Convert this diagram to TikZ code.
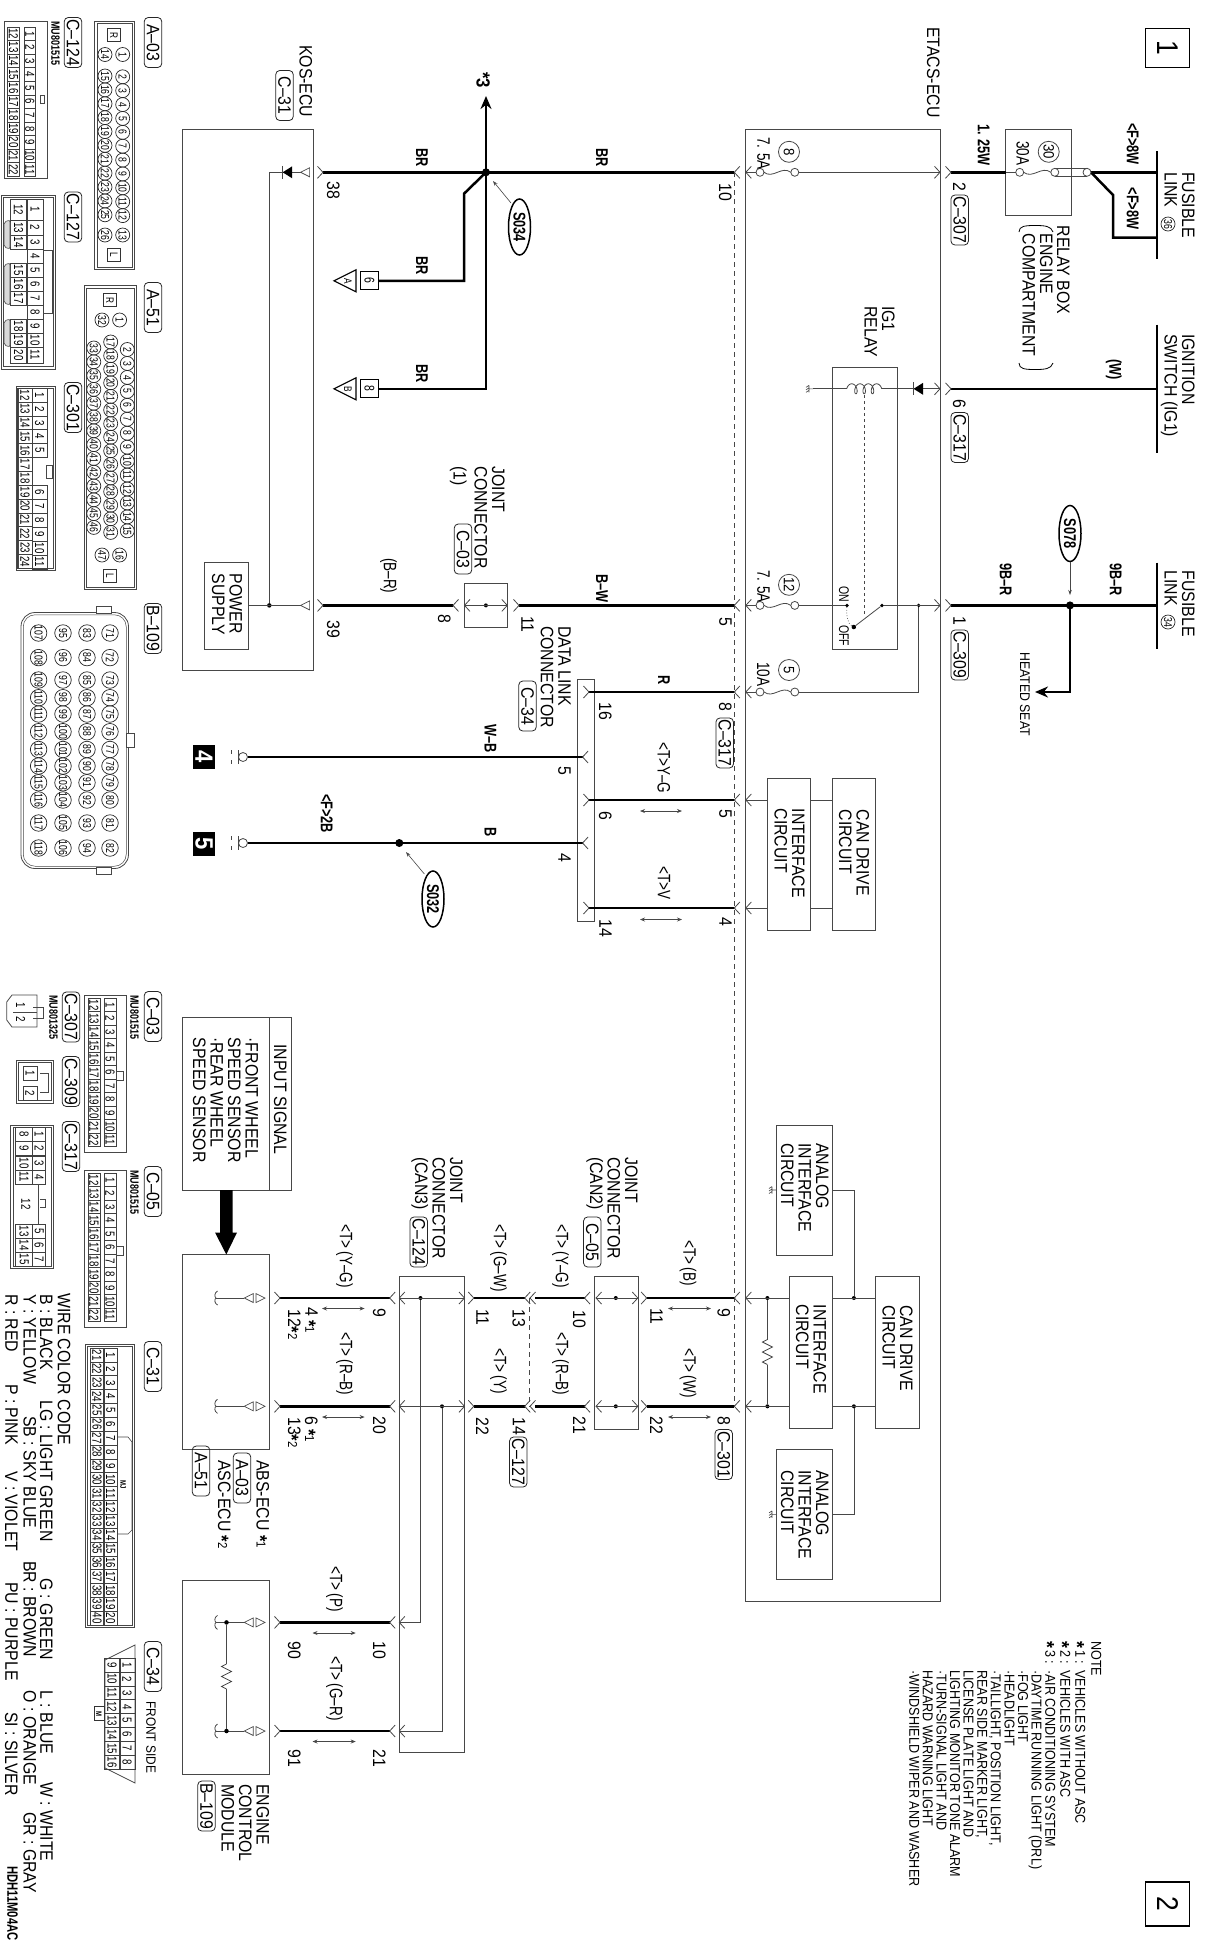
\documentclass[tikz,border=0pt]{standalone}
\usepackage{fontspec}
\setmainfont{Liberation Sans}[FakeStretch=.88]
\newfontfamily\narrowfont{Liberation Sans}[FakeStretch=.75]
\usetikzlibrary{arrows.meta,shapes.geometric}

\newcommand{\fsz}[1]{\fontsize{#1}{#1}\selectfont}
\newcommand{\astm}{\raisebox{-.3ex}{\bfseries\fsz{19}*}}
\newcommand{\astb}{\raisebox{-.35em}{\bfseries\fsz{20}*}}
\colorlet{ln}{black!72}

\tikzset{
  lbl/.style={rotate=-90,anchor=north west,inner sep=0pt,align=left,font=\fsz{18}},
  wlbl/.style={lbl,font=\narrowfont\bfseries\fsz{17}},
  tlbl/.style={lbl,font=\narrowfont\fsz{18}},
  notel/.style={lbl,font=\fsz{14.3}},
  pill/.style={draw=black!85,line width=.8pt,rotate=-90,rounded corners=4pt,inner sep=0pt,outer sep=0pt,
    minimum width=50pt,minimum height=17.5pt,font=\fsz{18}},
  box/.style={draw=ln,inner sep=0pt,outer sep=0pt},
  wire/.style={line width=2.5pt,black},
  thn/.style={line width=.8pt,ln},
  cell/.style={draw=black!75,line width=.6pt,rotate=-90,inner sep=0pt,outer sep=0pt,font=\narrowfont\fsz{13}},
  plain/.style={rotate=-90,inner sep=0pt,font=\narrowfont\fsz{13}},
  pinc/.style={draw=black!85,line width=.7pt,circle,rotate=-90,inner sep=0pt,outer sep=0pt,
    minimum size=14pt,font=\narrowfont\fsz{11.5}},
  fusec/.style={draw=ln,line width=.8pt,circle,fill=white,minimum size=8pt,inner sep=0pt,outer sep=0pt},
  dotn/.style={circle,fill=black,inner sep=0pt,outer sep=0pt,minimum size=#1},
  dotn/.default=4.5pt,
  chevr/.pic={\draw[thn] (-5.5,-6) -- (0,0) -- (-5.5,6);},
  chevl/.pic={\draw[thn] (5.5,-6) -- (0,0) -- (5.5,6);},
  femtl/.pic={\draw[line width=.7pt,ln,fill=white] (0,0) -- (9,-4.5) -- (9,4.5) -- cycle;},
  femtr/.pic={\draw[line width=.7pt,ln,fill=white] (0,0) -- (-9,-4.5) -- (-9,4.5) -- cycle;},
  dioden/.pic={\fill[black] (0,0) -- (9.5,-6) -- (9.5,6) -- cycle; \draw[thn] (0,-6.5) -- (0,6.5);},
  curl/.pic={\draw[thn] (1.5,-7) .. controls (-2,-5) and (-1.5,-1) .. (0,0) .. controls (-1.5,1) and (-2,5) .. (1.5,7);},
  zigzag/.pic={\draw[thn] (0,0) -- (-5,2.5) -- (5,7.5) -- (-5,12.5) -- (5,17.5) -- (-5,22.5) -- (0,25);},
  gndh/.pic={\draw[line width=.6pt,ln] (0,0) -- (-4,0) (-4,-3.5) -- (-4,3.5)
    (-4,-3.5) -- (-7,-1.5) (-4,-1) -- (-7,1) (-4,1.5) -- (-7,3.5);},
  chass/.pic={\draw[line width=.8pt,ln,fill=white] (0,0) circle (4.5pt);
    \draw[line width=.8pt,ln] (-4.5,-7) -- (-4.5,7) (-12,-7) -- (-12,-3) (-12,3) -- (-12,7);},
  gotri/.pic={\draw[line width=1.2pt,black] (0,0) -- (22,-11) -- (22,11) -- cycle;},
  dblarr/.style={<->,>={Stealth[length=5pt,width=4pt]},line width=.7pt,ln}
}

\begin{document}
\begin{tikzpicture}[x=1pt,y=-1pt]
  \useasboundingbox (0,0) rectangle (1210,1947);

  % Page markers
  \node[draw,line width=1.1pt,inner sep=0pt,minimum width=44pt,minimum height=38.5pt] (page1) at (1167.5,48) {};
  \node[rotate=-90,inner sep=0pt,font=\fsz{30}] at (page1) {1};
  \node[draw,line width=1.1pt,inner sep=0pt,minimum width=44pt,minimum height=44pt] (page2) at (1167.5,1904) {};
  \node[rotate=-90,inner sep=0pt,font=\fsz{30}] at (page2) {2};

  % Boxes
  \begin{scope}[every node/.style={box}]
    \node[minimum width=130.5pt,minimum height=541pt] (kos) at (247.75,400) {};
    \node[minimum width=195.6pt,minimum height=1471.5pt] (etacs) at (842.8,865.25) {};
    \node[minimum width=65.2pt,minimum height=86pt] (relaybox) at (1038.1,172.5) {};
    \node[minimum width=65pt,minimum height=281.7pt] (ig1) at (864.5,507.9) {};
    \node[minimum width=43.5pt,minimum height=86.2pt] (psup) at (226.3,605.6) {};
    \node[minimum width=42.8pt,minimum height=43.5pt] (jc1) at (485.9,605.3) {};
    \node[minimum width=17.2pt,minimum height=242.6pt] (dlc) at (585.4,800.3) {};
    \node[minimum width=42.6pt,minimum height=151.5pt] (ifc1) at (788.7,854.3) {};
    \node[minimum width=43.5pt,minimum height=151.5pt] (can1) at (853.8,854.3) {};
    \node[minimum width=43pt,minimum height=152pt] (ifc2) at (810.5,1352) {};
    \node[minimum width=43.2pt,minimum height=152pt] (can2) at (897.1,1352) {};
    \node[minimum width=56pt,minimum height=130.6pt] (ana1) at (804,1190) {};
    \node[minimum width=56pt,minimum height=130pt] (ana2) at (804,1514.4) {};
    \node[minimum width=108.8pt,minimum height=173pt] (insig) at (236.9,1103.5) {};
    \node[minimum width=86.8pt,minimum height=194.8pt] (abs) at (225.9,1351.9) {};
    \node[minimum width=86.8pt,minimum height=194pt] (ecm) at (225.9,1677) {};
    \node[minimum width=65.2pt,minimum height=476pt] (jcan3) at (431.9,1514) {};
    \node[minimum width=43.8pt,minimum height=153pt] (jcan2) at (615.9,1352.5) {};
  \end{scope}
  \draw[thn] (269.3,1017) -- (269.3,1190);

  % Named wire ends
  \foreach \nm/\x/\y in {k38/323/172.3,j034/486/172.3,e10/734.3/172.3,
      n6/378.3/280.8,n8/378.3/388.8,k39/323/605.4,jc8/453/605.4,jc11/519/605.4,e5/734.3/605.4,
      e8/734.3/692,d16/589/692,e5t/734.3/800,d6/589/800,e4t/734.3/908,d14/589/908,
      d5/582.6/757,g4/247.5/757,d4/582.6/843,g5/247.5/843,
      r2/951/172.3,rb/1005.5/172.3,r6/951/388.8,r1/951/605.4,
      fl36/1156.7/172.3,fl36b/1156.7/237.5,ig/1156.7/388.8,fl34/1156.7/605.4,
      a9/280/1298,b9/389.7/1298,a20/280/1406.3,b20/389.7/1406.3,
      a90/280/1622.4,b10/389.7/1622.4,a91/280/1731,b21/389.7/1731,
      c11/473.8/1298,c13/524.7/1298,c22/473.8/1406.3,c14/524.7/1406.3,
      c10/535/1298,c10r/584.5/1298,c21/535/1406.3,c21r/584.5/1406.3,
      t11/646.7/1298,t9/734.3/1298,t22/646.7/1406.3,t8/734.3/1406.3}
    \coordinate (\nm) at (\x,\y);

  % Harness
  \draw[wire] (k38) -- (e10);
  \draw[wire] (j034) -- (464,193.7) |- (n6);
  \draw[wire] (j034) |- (n8);
  \draw[wire,-{Stealth[length=13pt,width=11pt]}] (j034) -- (486,96);
  \draw[wire] (k39) -- (jc8);
  \draw[wire] (jc11) -- (e5);
  \draw[wire] (d16) -- (e8);
  \draw[wire] (d6) -- (e5t);
  \draw[wire] (d14) -- (e4t);
  \draw[line width=1.9pt] (g4) -- (d5);
  \draw[line width=1.9pt] (g5) -- (d4);
  \draw[wire] (r2) -- (rb);
  \draw[wire] (1091,172.3) -- (fl36);
  \draw[wire] (1091,172.3) -- (1113,195) |- (fl36b);
  \draw[wire] (r6) -- (ig);
  \draw[wire] (r1) -- (fl34);
  \draw[wire,-{Stealth[length=13pt,width=11pt]}] (1070,605.4) |- (1035,692);
  \foreach \a/\b in {a9/b9,a20/b20,a90/b10,a91/b21,c11/c13,c22/c14,c10/c10r,c21/c21r,t11/t9,t22/t8}
    \draw[wire] (\a) -- (\b);
  \node[dotn=8pt] (s034dot) at (j034) {};
  \node[dotn=8pt] (s078dot) at (1070,605.4) {};
  \node[dotn=8pt] (s032dot) at (399.3,843) {};
  \draw[line width=.7pt,ln,dash pattern=on 5pt off 4pt] (734.6,172.3) -- (734.6,1406.3);
  \draw[line width=.7pt,ln,dash pattern=on 5pt off 4pt] (529.3,1298) -- (529.3,1406.3);

  % Fusible link bars
  \draw[line width=2pt] (1156.7,151) -- (1156.7,259);
  \draw[line width=2pt] (1156.7,324.5) -- (1156.7,453);
  \draw[line width=2pt] (1156.7,562.5) -- (1156.7,648.7);

  % Connector forks
  \foreach \x/\y in {323/172.3,323/605.4,940/172.3,951/172.3,940/388.8,951/388.8,940/605.4,951/605.4,
      507.3/605.4,519/605.4,589/692,589/800,589/908,
      280/1298,280/1406.3,280/1622.4,280/1731,464.5/1298,473.8/1298,464.5/1406.3,473.8/1406.3,
      637.8/1298,646.7/1298,637.8/1406.3,646.7/1406.3}
    \pic at (\x,\y) {chevr};
  \foreach \x/\y in {734.3/172.3,745.8/172.3,734.3/605.4,745.8/605.4,734.3/692,745.8/692,
      734.3/800,745.8/800,734.3/908,745.8/908,734.3/1298,745.8/1298,734.3/1406.3,745.8/1406.3,
      453/605.4,464.5/605.4,582.6/757,582.6/843,
      389.7/1298,399.3/1298,389.7/1406.3,399.3/1406.3,389.7/1622.4,399.3/1622.4,389.7/1731,399.3/1731,
      524.7/1298,530/1298,524.7/1406.3,530/1406.3,584.5/1298,596/1298,584.5/1406.3,596/1406.3}
    \pic at (\x,\y) {chevl};

  % Inside the KOS-ECU
  \node[dotn] (kosdot) at (269.3,605.4) {};
  \coordinate (kosd) at (282.7,172.3);
  \draw[thn] (psup.east |- kosdot) -- (300.6,605.4);
  \draw[thn] (kosdot) |- (kosd) -- (300.6,172.3);
  \pic at (kosd) {dioden};
  \pic at (300.6,172.3) {femtl};
  \pic at (300.6,605.4) {femtl};
  \node[lbl] (powersup) at (242.5,573.5) {POWER\\[-.5pt]SUPPLY};

  % Joint connector (1)
  \node[dotn=4pt] (jc1dot) at (485.9,605.4) {};
  \draw[thn] (464.5,605.4) -- (507.3,605.4);

  % Body control fuses
  \foreach \nm/\y/\xa/\xb in {fa/172.3/760/794.8,fb/605.4/760/794.8,fc/692/760/794.8,fd/172.3/1019.7/1054.8} {
    \node[fusec] (\nm a) at (\xa,\y) {};
    \node[fusec] (\nm b) at (\xb,\y) {};
    \draw[thn] (\nm a.east) .. controls +(9,7) and +(-9,-7) .. (\nm b.west);
  }
  \draw[thn] (fbb) -- (847,605.4);
  \draw[thn] (745.8,172.3) -- (faa) (fab) -- (940,172.3);
  \draw[thn] (745.8,605.4) -- (fba);
  \draw[thn] (745.8,692) -- (fca) (fcb) -| (918.7,605.4);
  \draw[thn] (rb) -- (fda);
  \node[fusec] (fdc) at (1087,172.3) {};
  \draw[thn] (fdb.north) -- (fdc.north) (fdb.south) -- (fdc.south);
  \node[dotn=3.8pt] (igdot) at (918.7,605.4) {};
  \begin{scope}[every node/.style={draw=ln,line width=.8pt,circle,rotate=-90,inner sep=0pt,minimum size=21pt,font=\fsz{15}}]
    \node (fuse8) at (789,151.8) {8};
    \node (fuse12) at (789,584.8) {12};
    \node (fuse5) at (789,670) {5};
    \node (fuse30) at (1048.7,151.8) {30};
  \end{scope}
  \node[tlbl] (a75a) at (770,137) {7. 5A};
  \node[tlbl] (a75b) at (770,570) {7. 5A};
  \node[tlbl] (a10) at (770,662) {10A};
  \node[tlbl] (a30) at (1029.4,141) {30A};

  % IG1 relay
  \coordinate (ig1gnd) at (813,388.8);
  \pic at (ig1gnd) {gndh};
  \draw[thn] (ig1gnd) -- (846.7,388.8);
  \draw[thn,domain=90:1350,samples=140,smooth,variable=\t]
    plot ({849.7+(\t-90)/1260*29-3*sin(\t)},{388.8+5*cos(\t)});
  \draw[thn] (881.7,388.8) -- (913.6,388.8) (923,388.8) -- (940,388.8);
  \pic at (913.6,388.8) {dioden};
  \node[dotn=3.8pt] (swon) at (847,605.4) {};
  \node[dotn=3.8pt] (swcom) at (882,605.4) {};
  \node[dotn=4.5pt] (swarm) at (853.8,627) {};
  \draw[thn] (swarm) -- (swcom) -- (940,605.4);
  \draw[line width=.7pt,ln,dashed] (864.3,395) -- (864.3,614);
  \draw[line width=.7pt,ln,dotted] (swon) .. controls (846,616) and (848,624) .. (swarm);
  \node[lbl,font=\narrowfont\fsz{14}] (onl) at (849,586) {ON};
  \node[lbl,font=\narrowfont\fsz{14}] (offl) at (849,625) {OFF};

  % Interface circuits
  \node[lbl] (ifct1) at (805,808.5) {INTERFACE\\[-.5pt]CIRCUIT};
  \node[lbl] (cant1) at (869.5,809.5) {CAN DRIVE\\[-.5pt]CIRCUIT};
  \node[lbl] (ifct2) at (826.5,1304.5) {INTERFACE\\[-.5pt]CIRCUIT};
  \node[lbl] (cant2) at (912.8,1305) {CAN DRIVE\\[-.5pt]CIRCUIT};
  \node[lbl] (anat1) at (829,1143) {ANALOG\\[-.5pt]INTERFACE\\[-.5pt]CIRCUIT};
  \node[lbl] (anat2) at (829,1470) {ANALOG\\[-.5pt]INTERFACE\\[-.5pt]CIRCUIT};
  \draw[thn] (745.8,800) -- (767.4,800) (810,800) -- (832,800);
  \draw[thn] (745.8,908) -- (767.4,908) (810,908) -- (832,908);
  \node[dotn=4pt] (rt1) at (767.4,1298) {};
  \node[dotn=4pt] (rt2) at (767.4,1406.3) {};
  \node[dotn=4pt] (ad1) at (853.9,1298) {};
  \node[dotn=4pt] (ad2) at (853.9,1406.3) {};
  \draw[thn] (745.8,1298) -- (789,1298) (832,1298) -- (875.5,1298);
  \draw[thn] (745.8,1406.3) -- (789,1406.3) (832,1406.3) -- (875.5,1406.3);
  \draw[thn] (rt1) -- (767.4,1339.5) (767.4,1364.5) -- (rt2);
  \pic at (767.4,1339.5) {zigzag};
  \draw[thn] (ana1.east) -| (ad1);
  \draw[thn] (ana2.east) -| (ad2);
  \pic at (776,1190) {gndh};
  \pic at (776,1514.4) {gndh};

  % Joint connectors (CAN)
  \node[dotn=4pt] (ca1) at (420.5,1298) {};
  \node[dotn=4pt] (ca2) at (442,1406.3) {};
  \node[dotn=4pt] (cb1) at (615.8,1298) {};
  \node[dotn=4pt] (cb2) at (615.8,1406.3) {};
  \draw[thn] (399.3,1298) -- (464.5,1298) (399.3,1406.3) -- (464.5,1406.3);
  \draw[thn] (596,1298) -- (637.8,1298) (596,1406.3) -- (637.8,1406.3);
  \draw[thn] (ca1) |- (399.3,1622.4);
  \draw[thn] (ca2) |- (399.3,1731);

  % ABS and engine control inputs
  \foreach \y in {1298,1406.3,1622.4,1731} {
    \pic at (244.3,\y) {femtl};
    \pic at (265,\y) {femtr};
    \pic at (216,\y) {curl};
    \draw[thn] (216,\y) -- (244.3,\y);
  }
  \node[dotn=4.5pt] (ec1) at (226.5,1622.4) {};
  \node[dotn=4.5pt] (ec2) at (226.5,1731) {};
  \draw[thn] (ec1) -- (226.5,1664) (226.5,1689) -- (ec2);
  \pic at (226.5,1664) {zigzag};
  \fill (220,1190) -- (232.6,1190) -- (232.6,1232.5) -- (237,1232.5) -- (226.3,1254.5) -- (215,1232.5) -- (220,1232.5) -- cycle;

  % Ground points
  \pic at (243,757) {chass};
  \pic at (243,843) {chass};
  \node[fill=black,text=white,rotate=-90,inner sep=0pt,minimum width=24pt,minimum height=22pt,font=\bfseries\fsz{25}] (gnd4) at (204,757) {4};
  \node[fill=black,text=white,rotate=-90,inner sep=0pt,minimum width=24pt,minimum height=22pt,font=\bfseries\fsz{25}] (gnd5) at (204,843.5) {5};

  % Off-page references
  \pic at (334,280.8) {gotri};
  \pic at (334,388.8) {gotri};
  \node[rotate=-90,inner sep=0pt,font=\narrowfont\fsz{11}] (refa) at (348,280.8) {A};
  \node[rotate=-90,inner sep=0pt,font=\narrowfont\fsz{11}] (refb) at (348,388.8) {B};
  \node[draw,line width=1.1pt,fill=white,rotate=-90,inner sep=0pt,minimum width=18pt,minimum height=18pt,font=\narrowfont\fsz{14}] (ref6) at (369.5,280.8) {6};
  \node[draw,line width=1.1pt,fill=white,rotate=-90,inner sep=0pt,minimum width=18pt,minimum height=18pt,font=\narrowfont\fsz{14}] (ref8) at (369.5,388.8) {8};
  \node[lbl,font=\bfseries\fsz{19}] (st3) at (490,72) {*3};

  % Splices
  \begin{scope}[every node/.style={draw,ellipse,line width=1.5pt,rotate=-90,inner sep=0pt,
      minimum width=56pt,minimum height=22pt,font=\narrowfont\bfseries\fsz{17}}]
    \node (s034) at (519.5,227) {S034};
    \node (s078) at (1070,533.5) {S078};
    \node (s032) at (433,899) {S032};
  \end{scope}
  \draw[line width=.6pt,ln,-{Stealth[length=5pt,width=3.5pt]}] (511,203) -- (493,181);
  \draw[line width=.6pt,ln,-{Stealth[length=5pt,width=3.5pt]}] (s078) ++(0,28) -- (1070,595);
  \draw[line width=.6pt,ln,-{Stealth[length=5pt,width=3.5pt]}] (424.4,874) -- (406,852);

  % Wire colours
  \foreach \nm/\x/\y/\t in {w1/428/148/BR,w2/428/256/BR,w3/428/364/BR,w4/608/148/BR,
      w6/608/574/B–W,w7/496.5/724/W–B,w8/496.5/827/B,w9/333/794/<F>2B,w10/670/675/R,
      w13/990/124/1. 25W,w14/1139/123/<F>8W,w15/1139/187.5/<F>8W,w16/1122/359/(W),
      w17/1012/563/9B–R,w18/1122/563/9B–R}
    \node[wlbl] (\nm) at (\x,\y) {\t};
  \foreach \nm/\x/\y/\t in {w5/397/558/(B–R),w11/670.5/742/<T>Y–G,w12/670.5/866/<T>V,
      w19/353/1224/<T> (Y–G),w20/353/1332/<T> (R–B),w21/507/1224/<T> (G–W),w22/507/1348/<T> (Y),
      w23/569/1224/<T> (Y–G),w24/569/1332/<T> (R–B),w25/696.5/1240/<T> (B),w26/696.5/1348/<T> (W),
      w27/343/1566/<T> (P),w28/343/1656/<T> (G–R)}
    \node[tlbl] (\nm) at (\x,\y) {\t};

  % Pin numbers
  \foreach \nm/\x/\y/\t in {p38/340/181/38,p39/340/620/39,p8/451/614/8,p11/534/616/11,p10/732/183/10,p5/732/617/5,
      p16/612/702/16,p5d/571/766/5,p6d/612/811/6,p4d/571/853/4,p14/612/919.5/14,
      p8r/732/702/8,p5r/732/809.5/5,p4r/732/917/4,p2/966/182/2,p6/966/399/6,p1/966/616/1,
      pa9/386/1308/9,pa20/386/1416/20,pb11/489/1309/11,pb13/525.5/1309/13,pb10/586/1310/10,
      pb22/489/1417/22,pb14/525.5/1417/14,pb21/586/1416/21,pc9/730.5/1308/9,pc11/663/1308/11,
      pc8/730.5/1416/8,pc22/663/1416/22,pd10/386/1641/10,pd90/301/1641/90,pd21/386/1749/21,pd91/301/1749/91}
    \node[lbl] (\nm) at (\x,\y) {\t};
  \node[lbl] (pa4) at (318,1307) {4 \astm{\fsz{13}1}};
  \node[lbl] (pa12) at (301,1309) {12\astm{\fsz{13}2}};
  \node[lbl] (pa6) at (318,1416) {6 \astm{\fsz{13}1}};
  \node[lbl] (pa13) at (301,1417) {13\astm{\fsz{13}2}};

  % Signal direction arrows
  \foreach \xa/\xb/\y in {640/682/811,640/682/919.5,668/711/1308.5,668/711/1417,
      322/364.6/1308.5,322/364.6/1417,312.5/355.7/1633,312.5/355.7/1741.5}
    \draw[dblarr] (\xa,\y) -- (\xb,\y);

  % Component names
  \node[lbl] (kosn) at (312.5,45) {KOS-ECU};
  \node[lbl] (etacsn) at (940,27) {ETACS-ECU};
  \node[lbl] (jc1n) at (505,466.5) {JOINT\\[-.5pt]CONNECTOR\\[3pt](1)};
  \node[lbl] (dlcn) at (571,626) {DATA LINK\\[-.5pt]CONNECTOR};
  \node[lbl] (can3n) at (463,1157) {JOINT\\[-.5pt]CONNECTOR\\[-.5pt](CAN3)};
  \node[lbl] (can2n) at (637.8,1157) {JOINT\\[-.5pt]CONNECTOR\\[-.5pt](CAN2)};
  \node[lbl] (relayn) at (1070,225.5) {RELAY BOX};
  \node[lbl] (engn) at (1053,233.5) {ENGINE\\[-.5pt]COMPARTMENT};
  \draw[line width=.8pt,black] (1019,232) .. controls (1019,226) and (1025,225.5) .. (1035,225.5) .. controls (1045,225.5) and (1051,226) .. (1053,232);
  \draw[line width=.8pt,black] (1019,363) .. controls (1019,369) and (1025,369.5) .. (1035,369.5) .. controls (1045,369.5) and (1051,369) .. (1053,363);
  \node[lbl] (fl36n) at (1195,172) {FUSIBLE\\[-.5pt]LINK};
  \node[pinc,minimum size=14pt] (fl36c) at (1168,224) {36};
  \node[lbl] (ign) at (1195,334) {IGNITION\\[-.5pt]SWITCH (IG1)};
  \node[lbl] (fl34n) at (1195,570.5) {FUSIBLE\\[-.5pt]LINK};
  \node[pinc,minimum size=14pt] (fl34c) at (1168,622) {34};
  \node[lbl] (ig1n) at (895,306) {IG1\\[-.5pt]RELAY};
  \node[lbl,font=\fsz{14}] (heated) at (1030,652) {HEATED SEAT};
  \node[lbl] (insigt) at (287,1044) {INPUT SIGNAL};
  \node[lbl] (insigl) at (258.5,1037.5) {·FRONT WHEEL\\[-.5pt]SPEED SENSOR\\[-.5pt]·REAR WHEEL\\[-.5pt]SPEED SENSOR};
  \node[lbl] (absn) at (269.5,1460) {ABS-ECU \astm{\fsz{13}1}};
  \node[lbl] (ascn) at (231,1460) {ASC-ECU \astm{\fsz{13}2}};
  \node[lbl] (ecmn) at (269.5,1784) {ENGINE\\[-.5pt]CONTROL\\[-.5pt]MODULE};

  % Connector references in the circuit
  \begin{scope}[every node/.style={pill}]
    \node (pc31) at (284.5,95.5) {C–31};
    \node (pc03) at (463,549) {C–03};
    \node (pc34) at (527.5,706) {C–34};
    \node (pc307) at (959.7,220) {C–307};
    \node (pc317) at (959.7,437.5) {C–317};
    \node (pc309) at (959.7,655) {C–309};
    \node (pc317b) at (724.7,743) {C–317};
    \node (pc301) at (723.7,1454.5) {C–301};
    \node (pc127) at (518.3,1462) {C–127};
    \node (pc124) at (418.7,1242) {C–124};
    \node (pc05) at (592.3,1242) {C–05};
    \node (pca03) at (242,1478) {A–03};
    \node (pca51) at (201,1471) {A–51};
    \node (pb109) at (206.5,1806) {B–109};
  \end{scope}

  % Connector references beside the faces
  \begin{scope}[every node/.style={pill}]
    \node (fa03) at (153,42.5) {A–03};
    \node (fc124) at (73,42.5) {C–124};
    \node (fc127) at (73,217) {C–127};
    \node (fc301) at (73,407.5) {C–301};
    \node (fa51) at (153,307.5) {A–51};
    \node (fb109) at (153,628.5) {B–109};
    \node (fc03) at (153,1016.5) {C–03};
    \node (fc307) at (71,1017) {C–307};
    \node (fc309) at (71,1081.5) {C–309};
    \node (fc317) at (71,1146.5) {C–317};
    \node (fc05) at (153,1191.5) {C–05};
    \node (fc31) at (153,1366.5) {C–31};
    \node (fc34) at (153,1666.5) {C–34};
  \end{scope}
  \node[lbl,font=\narrowfont\bfseries\fsz{12}] (mj1) at (60,21) {MU801515};
  \node[lbl,font=\narrowfont\bfseries\fsz{12}] (mj2) at (139,995) {MU801515};
  \node[lbl,font=\narrowfont\bfseries\fsz{12}] (mj3) at (139,1170) {MU801515};
  \node[lbl,font=\narrowfont\bfseries\fsz{12}] (mj4) at (58,995) {MU801325};
  \node[lbl,font=\fsz{13.5}] (fronts) at (156,1701) {FRONT SIDE};

  % Double frames of the connector faces
  \foreach \nm/\x/\y/\w/\h in {a03/114.5/145/40/248,a51/110.3/437.5/52.6/303.6,c127/28/282.2/54/173.5,
      c301/35.5/478.2/39/184.5,c309/34.5/1081.7/37/42.5,c317/32/1196.5/42.6/143,c31/109.8/1485.7/49.6/283.5} {
    \node[box,line width=.8pt,minimum width=\w pt,minimum height=\h pt] (\nm) at (\x,\y) {};
    \node[box,line width=.5pt,minimum width=\w pt-4.5pt,minimum height=\h pt-4.5pt] (\nm i) at (\x,\y) {};
  }
  \node[box,line width=.8pt,rounded corners=14pt,minimum width=107.5pt,minimum height=256pt] (b109) at (74.75,740.5) {};
  \node[box,line width=.5pt,rounded corners=12pt,minimum width=103pt,minimum height=251.5pt] (b109i) at (74.75,740.5) {};

  % A-03 face
  \node[draw=black!80,rotate=-90,inner sep=0pt,minimum size=13pt,font=\narrowfont\fsz{11}] (a03r) at (114,35) {R};
  \node[draw=black!80,rotate=-90,inner sep=0pt,minimum size=13pt,font=\narrowfont\fsz{11}] (a03l) at (114,255) {L};
  \node[pinc] (a3p1) at (122.7,54.5) {1};
  \node[pinc] (a3p14) at (105,54.5) {14};
  \node[pinc] (a3p13) at (122.7,235) {13};
  \node[pinc] (a3p26) at (105,235) {26};
  \foreach \n [count=\i from 0] in {2,...,12}
    \node[pinc] (a3p\n) at (122.7,76.8+13.88*\i) {\n};
  \foreach \n [count=\i from 0] in {15,...,25}
    \node[pinc] (a3p\n) at (105,76+13.88*\i) {\n};

  % A-51 face
  \node[draw=black!80,rotate=-90,inner sep=0pt,minimum size=13pt,font=\narrowfont\fsz{11}] (a51r) at (110,300) {R};
  \node[draw=black!80,rotate=-90,inner sep=0pt,minimum size=13pt,font=\narrowfont\fsz{11}] (a51l) at (110,576) {L};
  \node[pinc] (a5p1) at (119.6,320) {1};
  \node[pinc] (a5p32) at (102,320) {32};
  \node[pinc] (a5p16) at (119.6,555) {16};
  \node[pinc] (a5p47) at (102,555) {47};
  \foreach \n [count=\i from 0] in {2,...,15}
    \node[pinc] (a5p\n) at (127.3,349.5+13.95*\i) {\n};
  \foreach \n [count=\i from 0] in {17,...,31}
    \node[pinc] (a5p\n) at (110.7,342+13.6*\i) {\n};
  \foreach \n [count=\i from 0] in {33,...,46}
    \node[pinc] (a5p\n) at (93.8,348+13.8*\i) {\n};

  % B-109 face
  \node[box,fill=white,minimum width=15pt,minimum height=7pt] (bt1) at (103.5,610) {};
  \node[box,fill=white,minimum width=15pt,minimum height=7pt] (bt2) at (103.5,871) {};
  \node[box,fill=white,minimum width=8pt,minimum height=13.5pt] (bt3) at (130.3,740) {};
  \foreach \cx/\st in {110/71,87/83,63/95,38.6/107}
    \foreach \ry [count=\i from 0] in {633,657.6,680,697.7,714,731.7,749.5,766,782.7,800,823,848} {
      \pgfmathtruncatemacro\pinno{\st+\i}
      \node[pinc,minimum size=16.5pt] (bp\pinno) at (\cx,\ry) {\pinno};
    }

  % C-124 face
  \node[box,line width=.8pt,minimum width=43pt,minimum height=157.6pt] (c124) at (25.5,99.8) {};
  \foreach \n [count=\i from 0] in {1,...,11}
    \node[cell,minimum width=13.57pt,minimum height=11.5pt] (g\n) at (29.8,33.8+13.57*\i) {\n};
  \foreach \n [count=\i from 0] in {12,...,22}
    \node[cell,minimum width=13.57pt,minimum height=11.5pt] (g\n) at (13.5,33.8+13.57*\i) {\n};
  \node[box,minimum width=4pt,minimum height=8pt] (t124) at (42,99) {};

  % C-03 and C-05 faces
  \foreach \nm/\ys in {h/1000,i/1175} {
    \node[box,line width=.8pt,minimum width=42.5pt,minimum height=157.5pt] (\nm box) at (105.25,\ys+74) {};
    \foreach \n [count=\i from 0] in {1,...,11}
      \node[cell,minimum width=13.5pt,minimum height=12pt] (\nm\n) at (110,\ys+5+13.5*\i) {\n};
    \foreach \n [count=\i from 0] in {12,...,22}
      \node[cell,minimum width=13.5pt,minimum height=12pt] (\nm\n) at (94,\ys+5+13.5*\i) {\n};
    \node[box,minimum width=7pt,minimum height=9pt] (\nm tab) at (120,\ys+76) {};
  }

  % C-127 face
  \foreach \n/\ya/\yb in {1/199/220,2/220/235,3/235/249,4/249/263,5/263/277,6/277/291,7/291/305,8/305/319,9/319/333,10/333/347,11/347/363}
    \node[cell,minimum width=\yb pt-\ya pt,minimum height=16pt] (k\n) at (35,{(\ya+\yb)/2}) {\n};
  \foreach \n/\ya/\yb in {12/199/220,13/220/235,14/235/249,15/263/277,16/277/291,17/291/305,18/319/333,19/333/347,20/347/363}
    \node[cell,minimum width=\yb pt-\ya pt,minimum height=16pt] (k\n) at (18.5,{(\ya+\yb)/2}) {\n};
  \draw[line width=.6pt,ln] (43,250) -- (52,250) -- (52,313) -- (43,313);
  \foreach \ya/\yb in {220/249,263/305,319/347}
    \draw[line width=.6pt,ln,fill=black!15,rounded corners=2pt] (10,\ya) -- (4,\ya+2) -- (4,\yb-2) -- (10,\yb) -- cycle;

  % C-301 face
  \foreach \n [count=\i from 0] in {1,...,5}
    \node[cell,minimum width=13.9pt,minimum height=14.5pt] (m\n) at (39.7,395+13.9*\i) {\n};
  \foreach \n [count=\i from 0] in {6,...,11}
    \node[cell,minimum width=13.9pt,minimum height=14.5pt] (m\n) at (39.7,492.5+13.9*\i) {\n};
  \foreach \n [count=\i from 0] in {12,...,24}
    \node[cell,minimum width=13.87pt,minimum height=14.5pt] (m\n) at (25,395+13.87*\i) {\n};
  \node[box,minimum width=6pt,minimum height=13pt] (t301) at (49,472) {};

  % C-307 face
  \draw[line width=.8pt,ln] (6.7,1002) -- (12,995) -- (37,995) -- (37,1027) -- (12,1027) -- (6.7,1020) -- cycle;
  \draw[line width=.6pt,ln] (13,1012) -- (37,1012) (33,1007) -- (43,1007) -- (43,1018) -- (33,1018);
  \node[plain] (q1) at (20.7,1005) {1};
  \node[plain] (q2) at (20.7,1019.3) {2};

  % C-309 face
  \node[cell,minimum width=13.5pt,minimum height=14pt] (v1) at (30,1073.5) {1};
  \node[cell,minimum width=13.5pt,minimum height=14pt] (v2) at (30,1093.5) {2};
  \draw[line width=.6pt,ln] (40,1073) -- (48,1073) -- (48,1092) -- (40,1092);

  % C-317 face
  \foreach \n/\y in {1/1134,2/1148,3/1163,4/1177,5/1231,6/1245,7/1259}
    \node[cell,minimum width=14pt,minimum height=13pt] (u\n) at (39.2,\y) {\n};
  \foreach \n/\y in {8/1134,9/1148,10/1163,11/1177,13/1231,14/1245,15/1259}
    \node[cell,minimum width=14pt,minimum height=17pt] (u\n) at (24.2,\y) {\n};
  \node[plain] (u12) at (26,1204) {12};
  \draw[line width=.6pt,ln] (38,1184) -- (38,1224) (40,1199) -- (45,1199) -- (45,1207) -- (40,1207);

  % C-31 face
  \foreach \n [count=\i from 0] in {1,...,20}
    \node[cell,minimum width=13.85pt,minimum height=14pt] (n\n) at (110.7,1355+13.85*\i) {\n};
  \foreach \n [count=\i from 0] in {21,...,40}
    \node[cell,minimum width=13.85pt,minimum height=14pt] (n\n) at (97,1355+13.85*\i) {\n};
  \draw[line width=.6pt,ln] (118,1437) -- (128,1437) -- (132,1442) -- (132,1530) -- (128,1534) -- (118,1534);
  \node[plain,font=\narrowfont\bfseries\fsz{8}] (mjt) at (123,1485) {MJ};

  % C-34 face
  \draw[line width=.8pt,ln] (105,1660) -- (135,1645) -- (135,1783) -- (105,1768) -- cycle;
  \foreach \n [count=\i from 0] in {1,...,8}
    \node[cell,minimum width=13.9pt,minimum height=16pt] (o\n) at (127,1665+13.9*\i) {\n};
  \foreach \n [count=\i from 0] in {9,...,16}
    \node[cell,minimum width=13.9pt,minimum height=16pt] (o\n) at (112,1665+13.9*\i) {\n};
  \node[draw=black!80,rotate=-90,inner sep=0pt,minimum width=14pt,minimum height=9.5pt,font=\narrowfont\bfseries\fsz{8}] (mjo) at (99,1713.5) {M};

  % Wire color code
  \node[lbl] (wcc) at (70.6,1293) {WIRE COLOR CODE};
  \foreach \x/\y/\t in {53/1294/B : BLACK,53/1400/LG : LIGHT GREEN,53/1578/G : GREEN,53/1690.5/L : BLUE,53/1782/W : WHITE,
      36.5/1294/Y : YELLOW,36.5/1416/SB : SKY BLUE,36.5/1561/BR : BROWN,36.5/1690.5/O : ORANGE,36.5/1812/GR : GRAY,
      18/1294/R : RED,18/1384/P : PINK,18/1471/V : VIOLET,18/1582/PU : PURPLE,18/1712/SI : SILVER}
    \node[lbl] at (\x,\y) {\t};
  \node[lbl,font=\narrowfont\bfseries\fsz{15}] (hdh) at (18,1866) {HDH11M04AC};

  % Note
  \node[notel] (note) at (1101.5,1641) {NOTE};
  \node[notel] (n1s) at (1085.5,1641) {\astb\,1 :};
  \node[notel] (n2s) at (1070.5,1641) {\astb\,2 :};
  \node[notel] (n3s) at (1055.5,1641) {\astb\,3 :};
  \node[notel] (n1) at (1085.5,1670) {VEHICLES WITHOUT ASC};
  \node[notel] (n2) at (1070.5,1670) {VEHICLES WITH ASC};
  \node[notel] (n3) at (1055.5,1670) {·AIR CONDITIONING SYSTEM\\[-.7pt]·DAYTIME RUNNING LIGHT (DRL)\\[-.7pt]·FOG LIGHT\\[-.7pt]·HEADLIGHT\\[-.7pt]·TAILLIGHT, POSITION LIGHT,\\[-.7pt]REAR SIDE MARKER LIGHT,\\[-.7pt]LICENSE PLATE LIGHT AND\\[-.7pt]LIGHTING MONITOR TONE ALARM\\[-.7pt]·TURN-SIGNAL LIGHT AND\\[-.7pt]HAZARD WARNING LIGHT\\[-.7pt]·WINDSHIELD WIPER AND WASHER};

\end{tikzpicture}
\end{document}
